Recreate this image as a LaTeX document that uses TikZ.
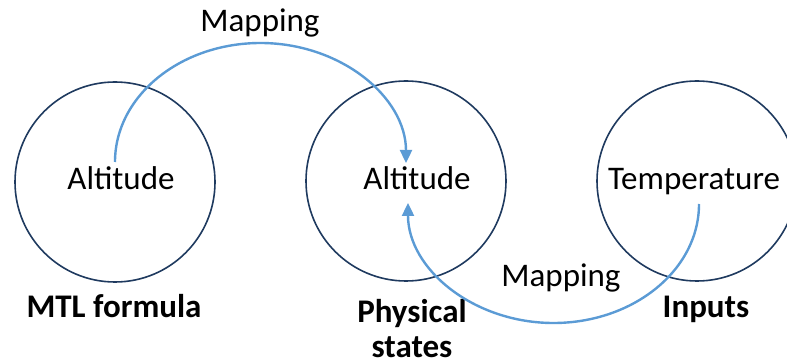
\documentclass[tikz,border=0pt]{standalone}
\usepackage{fontspec}
\setmainfont{Carlito}
\usetikzlibrary{arrows.meta,calc}
\definecolor{ringcol}{HTML}{1F3A5F}
\definecolor{mapcol}{HTML}{5B9BD5}
\begin{document}
\begin{tikzpicture}[x=1pt,y=-1pt,
  ring/.style={draw=ringcol,line width=1.6pt},
  lbl/.style={anchor=base,inner sep=0pt,font=\fontsize{33}{39}\selectfont},
  setcaption/.style={lbl,font=\fontsize{33}{39}\selectfont\bfseries},
  maparrow/.style={draw=mapcol,line width=2.4pt,-{Triangle[length=13pt,width=12pt]}}]
\useasboundingbox (0,0) rectangle (787,363);

% three sets
\draw[ring] (115,182) circle[radius=100pt];
\draw[ring] (406,181) circle[radius=100pt];
\draw[ring] (697,181) circle[radius=100pt];

% labels inside the sets
\node[lbl] (altF) at (121,190) {Altitude};
\node[lbl] (altP) at (417,190) {Altitude};
\node[lbl] (temp) at (694,190) {Temperature};

% set captions
\node[setcaption] (mtl) at (114,317) {MTL formula};
\node[setcaption] (phys) at (412,323) {Physical};
\node[setcaption] (states) at (412,357) {states};
\node[setcaption] (inp) at (706,317) {Inputs};

% mapping labels
\node[lbl] (map1) at (260,32) {Mapping};
\node[lbl] (map2) at (561,287) {Mapping};

% arrow end points
\coordinate (s1) at (115,162);
\coordinate (e1) at (406,163);
\coordinate (s2) at (699,204);
\coordinate (e2) at (408,203);
\coordinate (top1) at (260.5,43);
\coordinate (bot2) at (553.5,323);

% formula altitude -> physical altitude
\draw[maparrow] (s1) .. controls ($(s1)+(0,-66)$) and ($(top1)+(-80,0)$) .. (top1)
  .. controls ($(top1)+(80,0)$) and ($(e1)+(0,-66)$) .. (e1);
% input temperature -> physical altitude
\draw[maparrow] (s2) .. controls ($(s2)+(0,66)$) and ($(bot2)+(80,0)$) .. (bot2)
  .. controls ($(bot2)+(-80,0)$) and ($(e2)+(0,66)$) .. (e2);
\end{tikzpicture}
\end{document}
